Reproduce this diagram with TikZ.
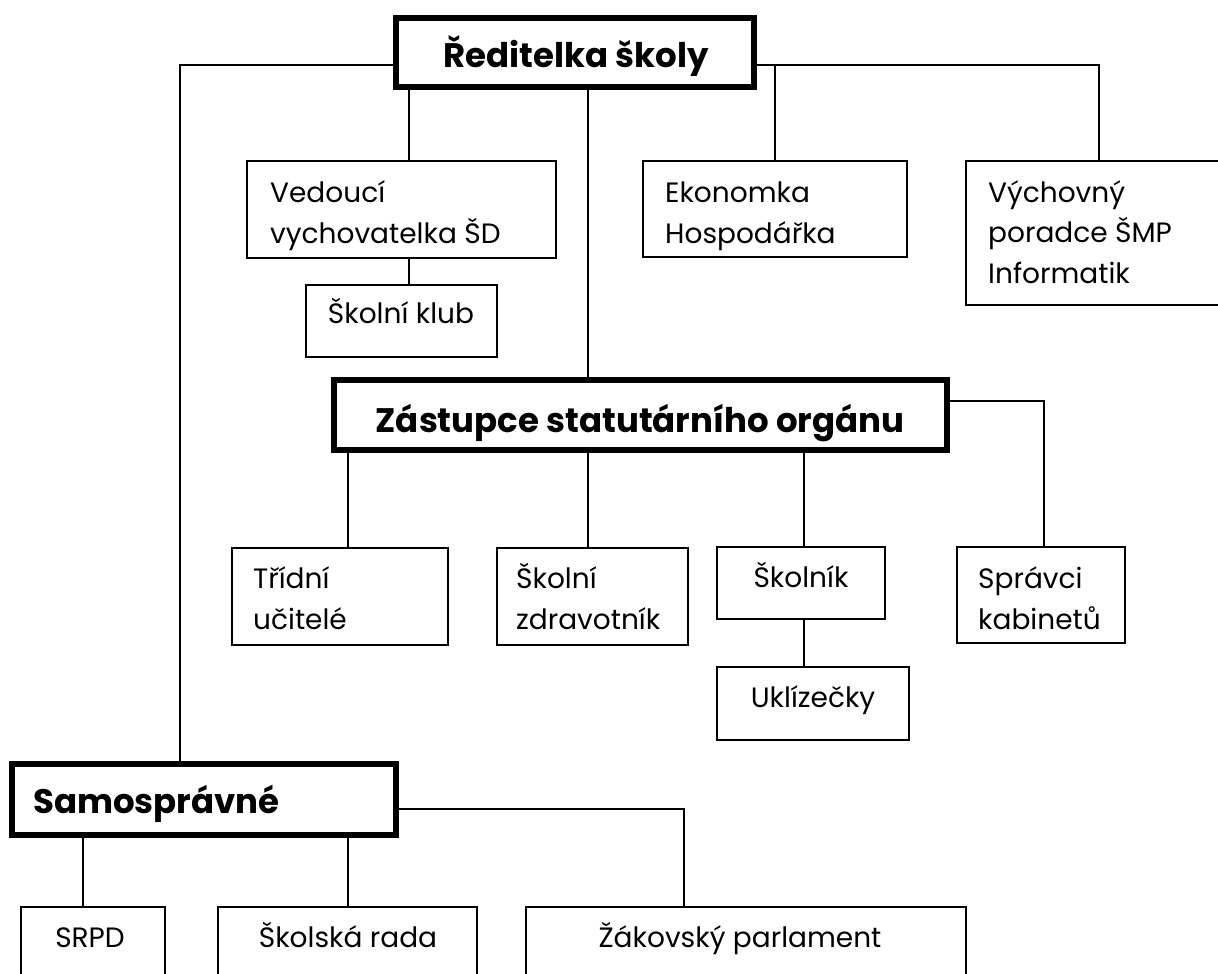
\documentclass[tikz,border=0pt]{standalone}
\usepackage{fontspec}
\setmainfont{Poppins}
\newcommand\twoln[2]{\vtop{\baselineskip=41pt\hbox{#1}\hbox{#2}}}
\newcommand\threeln[3]{\vtop{\baselineskip=40.5pt\hbox{#1}\hbox{#2}\hbox{#3}}}
\tikzset{
  conn/.style={line width=1.6pt},
  sbox/.style={draw, rectangle, line width=1.6pt, inner sep=0pt, outer sep=0pt, anchor=north west},
  bbox/.style={sbox, line width=6pt},
  txt/.style={inner sep=0pt, font=\fontsize{28pt}{41pt}\selectfont},
  btxt/.style={inner sep=0pt, font=\fontsize{34pt}{40pt}\selectfont\bfseries}
}
\begin{document}
\begin{tikzpicture}[x=1pt,y=-1pt]
\clip (0,0) rectangle (1218,974);
% boxes
\node[bbox, minimum width=358pt, minimum height=69pt] (red) at (396,18) {};
\node[bbox, minimum width=613pt, minimum height=70pt] (zas) at (334,380) {};
\node[bbox, minimum width=384pt, minimum height=71pt] (samo) at (12,764) {};
\node[sbox, minimum width=309pt, minimum height=97pt] (ved) at (247,161) {};
\node[sbox, minimum width=264pt, minimum height=96pt] (eko) at (643,161) {};
\node[sbox, minimum width=264pt, minimum height=144pt] (vych) at (966,161) {};
\node[sbox, minimum width=191pt, minimum height=72pt] (klub) at (306,285) {};
\node[sbox, minimum width=216pt, minimum height=97pt] (trid) at (232,548) {};
\node[sbox, minimum width=191pt, minimum height=97pt] (zdra) at (497,548) {};
\node[sbox, minimum width=168pt, minimum height=72pt] (skol) at (717,547) {};
\node[sbox, minimum width=192pt, minimum height=73pt] (ukl) at (717,667) {};
\node[sbox, minimum width=168pt, minimum height=96pt] (spr) at (957,547) {};
\node[sbox, minimum width=144pt, minimum height=100pt] (srpd) at (21,907) {};
\node[sbox, minimum width=259pt, minimum height=100pt] (skra) at (218,907) {};
\node[sbox, minimum width=440pt, minimum height=100pt] (zak) at (526,907) {};
% helper coordinates
\coordinate (xA) at (180,0);
\coordinate (x409) at (409,0);
\coordinate (x588) at (588,0);
\coordinate (x775) at (775,0);
\coordinate (x1099) at (1099,0);
\coordinate (x348) at (348,0);
\coordinate (x804) at (804,0);
\coordinate (x1044) at (1044,0);
\coordinate (x83) at (83,0);
\coordinate (x684) at (684,0);
\coordinate (yA) at (0,65);
\coordinate (yB) at (0,401);
\coordinate (yC) at (0,809);
% connectors
\draw[conn] (red.west |- yA) -| (xA |- samo.north);
\draw[conn] (red.south -| x409) -- (ved.north -| x409);
\draw[conn] (ved.south -| x409) -- (klub.north -| x409);
\draw[conn] (red.south -| x588) -- (zas.north -| x588);
\draw[conn] (red.east |- yA) -| (x1099 |- vych.north);
\draw[conn] (x775 |- yA) -- (eko.north -| x775);
\draw[conn] (zas.east |- yB) -| (x1044 |- spr.north);
\draw[conn] (zas.south -| x348) -- (trid.north -| x348);
\draw[conn] (zas.south -| x588) -- (zdra.north -| x588);
\draw[conn] (zas.south -| x804) -- (skol.north -| x804);
\draw[conn] (skol.south -| x804) -- (ukl.north -| x804);
\draw[conn] (samo.east |- yC) -| (x684 |- zak.north);
\draw[conn] (samo.south -| x83) -- (srpd.north -| x83);
\draw[conn] (samo.south -| x348) -- (skra.north -| x348);
% texts
\node[btxt, anchor=base] (tred) at (576,67) {Ředitelka školy};
\node[btxt, anchor=base] (tzas) at (640,432) {Zástupce statutárního orgánu};
\node[btxt, anchor=base west] (tsamo) at (33,813) {Samosprávné};
\node[txt, anchor=base west] (tved) at (270,202) {\twoln{Vedoucí}{vychovatelka ŠD}};
\node[txt, anchor=base west] (teko) at (665,202) {\twoln{Ekonomka}{Hospodářka}};
\node[txt, anchor=base west] (tvych) at (988,202) {\threeln{Výchovný}{poradce ŠMP}{Informatik}};
\node[txt, anchor=base] (tklub) at (401,323) {Školní klub};
\node[txt, anchor=base west] (ttrid) at (253,588) {\twoln{Třídní}{učitelé}};
\node[txt, anchor=base west] (tzdra) at (516,588) {\twoln{Školní}{zdravotník}};
\node[txt, anchor=base] (tskol) at (801,587) {Školník};
\node[txt, anchor=base] (tukl) at (813,707) {Uklízečky};
\node[txt, anchor=base west] (tspr) at (978,588) {\twoln{Správci}{kabinetů}};
\node[txt, anchor=base] (tsrpd) at (90,947) {SRPD};
\node[txt, anchor=base] (tskra) at (348,947) {Školská rada};
\node[txt, anchor=base] (tzak) at (740,947) {Žákovský parlament};
\end{tikzpicture}
\end{document}
